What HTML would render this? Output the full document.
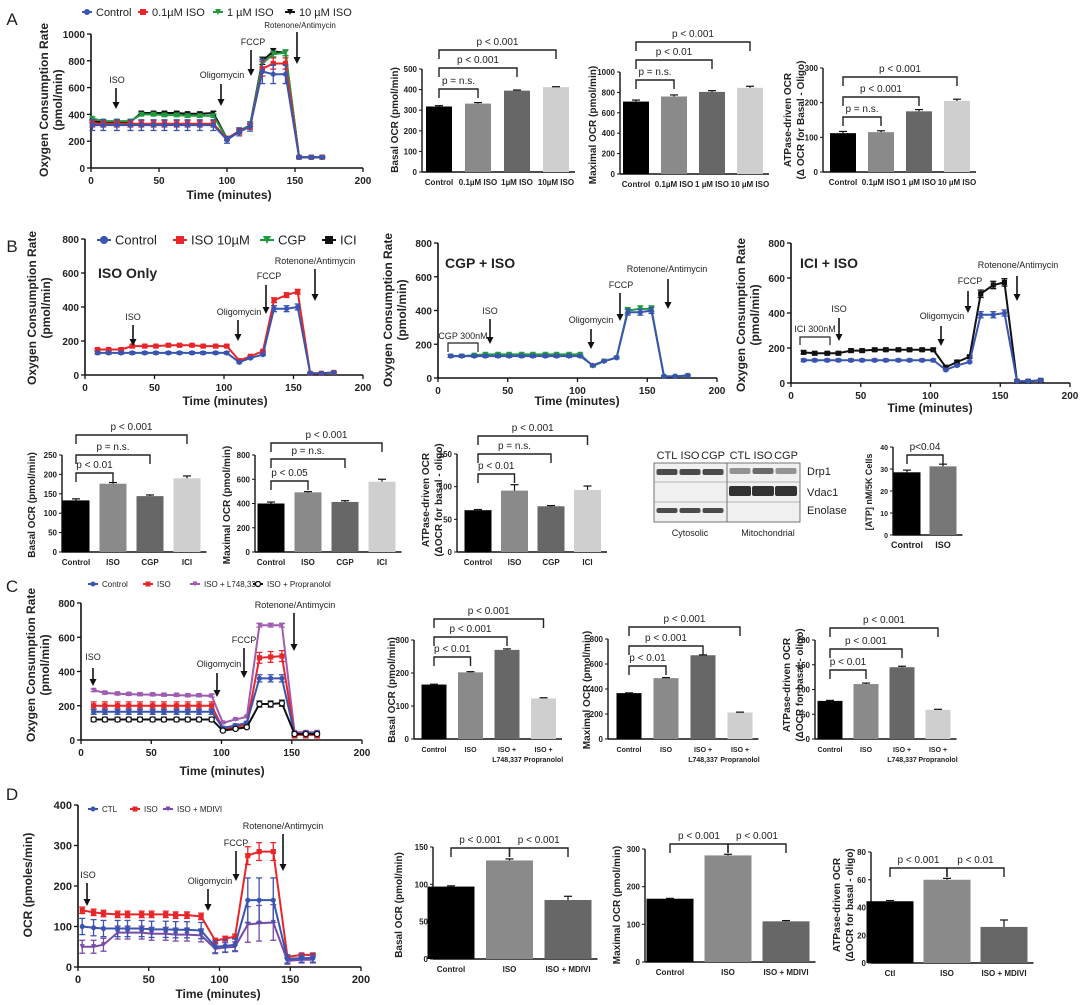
<!DOCTYPE html>
<html><head><meta charset="utf-8">
<style>
html,body{margin:0;padding:0;background:#fff;}
svg{display:block;font-family:"Liberation Sans",Arial,sans-serif;}
</style></head>
<body>
<svg id="fig" width="1080" height="1005" viewBox="0 0 1080 1005" xmlns="http://www.w3.org/2000/svg"></svg>
<script>
// ---------- DATA ----------
const aTimes=[1,9,19,29,37,46,54,63,71,80,90,100,109,117,126,134,143,153,162,170];
const aControl=[320,320,320,320,320,320,320,320,320,320,320,210,270,310,720,700,700,80,80,80];
const aIso01=[330,330,330,330,330,330,330,330,330,330,330,220,270,310,740,780,780,80,80,80];
const aIso1=[370,350,350,350,400,400,395,395,390,390,390,220,270,320,780,850,860,80,80,80];
const aIso10=[350,340,340,345,410,410,410,410,405,405,410,220,275,320,800,870,860,80,80,80];
const aErr=[40,40,40,40,40,40,40,40,40,40,40,25,30,35,90,70,70,10,10,10];

const bTimes=[9,17,26,34,43,51,60,68,77,85,94,102,111,119,128,136,145,153,162,170,179];
const bControl=[130,130,130,130,130,130,130,130,130,130,130,130,75,100,120,390,390,400,10,10,15];
const bIso=[150,150,150,170,170,170,175,175,175,170,170,170,85,110,140,440,470,490,10,10,15];
const bCgp=[130,130,135,140,140,140,140,140,140,140,140,140,70,100,120,400,410,410,10,10,15];
const bIci=[175,170,170,170,185,185,190,190,190,190,190,190,90,120,150,510,560,575,10,10,15];
const bErr=[15,15,15,15,15,15,15,15,15,15,15,15,10,10,10,35,35,35,8,8,8];

const cTimes=[9,17,26,34,42,51,59,68,76,84,93,101,110,118,127,135,143,152,160,168];
const cControl=[165,165,165,165,165,165,165,165,165,165,165,70,85,100,360,360,360,35,40,40];
const cIso=[200,200,200,200,200,200,200,200,200,200,200,65,75,90,480,485,490,30,30,30];
const cL748=[290,275,270,268,266,265,263,262,260,260,258,100,120,135,670,670,670,45,45,45];
const cProp=[120,120,120,120,120,120,120,120,120,120,120,55,65,75,210,210,215,35,35,35];
const cErr=[25,25,25,25,25,25,25,25,25,25,25,15,15,15,35,35,35,20,20,20];

const dTimes=[3,11,18,28,35,45,52,62,69,77,87,97,104,111,120,128,138,148,158,166];
const dCtl=[100,97,95,95,95,95,93,93,92,92,90,50,52,55,165,165,165,20,22,22];
const dIso=[140,135,132,130,130,130,130,130,128,128,125,65,70,75,275,285,285,25,30,30];
const dMdivi=[50,50,55,85,85,85,82,82,80,80,78,45,48,50,105,108,110,15,18,18];
const dErr=[20,20,20,20,20,20,20,20,20,20,20,15,15,15,55,55,55,10,10,10];

const aCats=["Control","0.1µM ISO","1µM ISO","10µM ISO"];
const aCats2=["Control","0.1µM ISO","1 µM ISO","10 µM ISO"];
const aBasal=[318,332,395,412], aBasalErr=[4,5,3,2];
const aMax=[710,760,805,845], aMaxErr=[15,15,12,15];
const aAtp=[112,115,175,205], aAtpErr=[5,4,5,5];
const bCats=["Control","ISO","CGP","ICI"];
const bBasal=[133,176,144,190], bBasalErr=[4,3,3,6];
const bMax=[400,492,413,580], bMaxErr=[12,6,10,20];
const bAtp=[64,94,70,95], bAtpErr=[1,9,1,6];
const atpCats=["Control","ISO"];
const atpVals=[28.5,31.2], atpErr=[1,1];
const cCats=["Control","ISO","ISO +|L748,337","ISO +|Propranolol"];
const cBasal=[165,202,270,123], cBasalErr=[1,2,3,2];
const cMax=[367,487,670,212], cMaxErr=[2,4,3,3];
const cAtp=[77,111,145,59], cAtpErr=[1,2,2,1];
const dCats=["Control","ISO","ISO + MDIVI"];
const dCats2=["Ctl","ISO","ISO + MDIVI"];
const dBasal=[97,132,79], dBasalErr=[1,2,5];
const dMax=[168,283,108], dMaxErr=[1,3,2];
const dAtp=[44.5,60,26], dAtpErr=[0.5,1,5];

// ---------- HELPERS ----------
const NS="http://www.w3.org/2000/svg";
const svg=document.getElementById('fig');
function mk(tag,attrs,parent,name){
  const el=document.createElementNS(NS,tag);
  for(const k in attrs) el.setAttribute(k,attrs[k]);
  
  
  (parent||svg).appendChild(el);
  return el;
}
function txt(x,y,s,size,opts,parent,name){
  opts=opts||{};
  const a={x:x,y:y,'font-size':size,'fill':opts.fill||'#222','text-anchor':opts.anchor||'middle'};
  if(opts.bold) a['font-weight']='bold';
  if(opts.rot) a.transform='rotate(-90 '+x+' '+y+')';
  const t=mk('text',a,parent,name);
  t.textContent=s;
  return t;
}
function line(x1,y1,x2,y2,col,w,parent,name){
  return mk('line',{x1:x1,y1:y1,x2:x2,y2:y2,stroke:col,'stroke-width':w},parent,name);
}
function arrow(x,y1,y2,parent){
  line(x,y1,x,y2-5,'#111',1.6,parent,'arrow-shaft');
  mk('polygon',{points:(x-3.5)+','+(y2-7)+' '+(x+3.5)+','+(y2-7)+' '+x+','+y2,fill:'#111'},parent,'arrow-head');
}
function marker(g,x,y,col,shape,r){
  if(shape==='sq') mk('rect',{x:x-r,y:y-r,width:2*r,height:2*r,fill:col},g,'marker');
  else if(shape==='oc') mk('circle',{cx:x,cy:y,r:r,fill:'#fff',stroke:col,'stroke-width':1.3},g,'marker');
  else if(shape==='tri') mk('polygon',{points:(x-r)+','+(y-r)+' '+(x+r)+','+(y-r)+' '+x+','+(y+r)},g,'marker').setAttribute('fill',col);
  else mk('circle',{cx:x,cy:y,r:r,fill:col},g,'marker');
}

function lineChart(c){
  const g=mk('g',{},svg,c.name);
  const sx=v=>c.x0+(v/c.xmax)*(c.x1-c.x0);
  const sy=v=>c.y0-(v/c.ymax)*(c.y0-c.y1);
  line(c.x0,c.y0,c.x0,c.y1,'#111',1.6,g,'y-axis');
  line(c.x0,c.y0,c.x1,c.y0,'#111',1.6,g,'x-axis');
  c.yticks.forEach(v=>{line(c.x0-4,sy(v),c.x0,sy(v),'#111',1.3,g,'y-tick');
    txt(c.x0-6,sy(v)+4,String(v),c.tf,{bold:true,anchor:'end'},g,'y-tick-label');});
  c.xticks.forEach(v=>{line(sx(v),c.y0,sx(v),c.y0+4,'#111',1.3,g,'x-tick');
    txt(sx(v),c.y0+16,String(v),c.tf,{bold:true},g,'x-tick-label');});
  c.series.forEach(s=>{
    const sg=mk('g',{},g,'series-'+s.key);
    const pts=s.vals.map((v,i)=>sx(c.times[i])+','+sy(v)).join(' ');
    mk('polyline',{points:pts,fill:'none',stroke:s.color,'stroke-width':2},sg,'series-line');
    s.vals.forEach((v,i)=>{
      const x=sx(c.times[i]);const e=c.err[i]*(s.ef||1);
      line(x,sy(v-e),x,sy(v+e),s.color,1.3,sg,'error-bar');
      line(x-3,sy(v+e),x+3,sy(v+e),s.color,1.3,sg,'error-cap');
      line(x-3,sy(v-e),x+3,sy(v-e),s.color,1.3,sg,'error-cap');
      marker(sg,x,sy(v),s.color,s.shape,2.6);
    });
  });
  txt(c.xtx,c.xty,'Time (minutes)',c.xtf,{bold:true},g,'x-axis-title');
  c.ytitles.forEach(t=>txt(t[0],t[1],t[2],c.ytf,{bold:true,rot:true},g,'y-axis-title'));
  (c.ann||[]).forEach(a=>{txt(a[0],a[1],a[2],a[6]||9,{},g,'annotation-label'); if(a[3]!==null) arrow(a[3],a[4],a[5],g);});
  return g;
}

function barChart(c){
  const g=mk('g',{},svg,c.name);
  const sy=v=>c.y0-(v/c.ymax)*(c.y0-c.y1);
  const cx=i=>c.first+i*c.step;
  const xEnd=cx(c.vals.length-1)+c.w/2+6;
  line(c.ax,c.y0,c.ax,c.y1,'#111',1.4,g,'y-axis');
  line(c.ax,c.y0,xEnd,c.y0,'#111',1.4,g,'x-axis');
  c.yticks.forEach(v=>{line(c.ax-3,sy(v),c.ax,sy(v),'#111',1,g,'y-tick');
    txt(c.ax-5,sy(v)+3,String(v),c.tf,{bold:true,anchor:'end'},g,'y-tick-label');});
  c.vals.forEach((v,i)=>{
    mk('rect',{x:cx(i)-c.w/2,y:sy(v),width:c.w,height:c.y0-sy(v),fill:c.colors[i]},g,'bar-'+i);
    const e=c.errs[i];
    line(cx(i),sy(v),cx(i),sy(v+e),'#111',1.2,g,'error-bar');
    line(cx(i)-4,sy(v+e),cx(i)+4,sy(v+e),'#111',1.2,g,'error-cap');
    const parts=c.cats[i].split('|');
    parts.forEach((p,k)=>txt(cx(i),c.y0+13+k*10,p,c.cf,{bold:true},g,'category-label'));
  });
  c.ytitles.forEach(t=>txt(t[0],t[1],t[2],c.ytf,{bold:true,rot:true},g,'y-axis-title'));
  (c.br||[]).forEach(b=>{
    const x1=cx(b[0]),x2=cx(b[1]),y=b[2];
    mk('polyline',{points:x1+','+(y+9)+' '+x1+','+y+' '+x2+','+y+' '+x2+','+(y+9),fill:'none',stroke:'#222','stroke-width':1.4},g,'significance-bracket');
    txt((x1+x2)/2,y-5,b[3],c.pf||10,{},g,'p-value-label');
  });
  return g;
}
function legend(items,y,fs,name){
  const g=mk('g',{},svg,name);
  items.forEach(it=>{
    const lg=mk('g',{},g,'legend-entry');
    line(it[0],y,it[0]+it[1],y,it[2],2,lg,'legend-line');
    marker(lg,it[0]+it[1]/2,y,it[2],it[3],it[5]||3);
    txt(it[0]+it[1]+4,y+fs*0.36,it[4],fs,{anchor:'start'},lg,'legend-label');
  });
}
const BL='#3a55b0',RD='#e8262a',GR='#1f9a3e',BK='#111',PU='#a05cb0',PU2='#7a4aa8';
const grays4=['#000','#8a8a8a','#676767','#cfcfcf'];

// panel letters
txt(12,25,'A',17,{},null,'panel-label-a');
txt(12,252,'B',17,{},null,'panel-label-b');
txt(12,592,'C',17,{},null,'panel-label-c');
txt(12,800,'D',17,{},null,'panel-label-d');

// ---------- A ----------
legend([[82,10,BL,'c','Control'],[138,10,RD,'sq','0.1µM ISO'],[213,10,GR,'tri','1 µM ISO'],[285,10,BK,'tri','10 µM ISO']],12,11,'legend-a');
lineChart({name:'chart-a-ocr',x0:91,x1:363,y0:168,y1:34,xmax:200,ymax:1000,yticks:[0,200,400,600,800,1000],xticks:[0,50,100,150,200],tf:10,
 times:aTimes,err:aErr,series:[{key:'10uM',vals:aIso10,color:BK,shape:'tri',ef:0.3},{key:'1uM',vals:aIso1,color:GR,shape:'tri',ef:0.3},{key:'0.1uM',vals:aIso01,color:RD,shape:'sq',ef:0.6},{key:'control',vals:aControl,color:BL,shape:'c'}],
 xtx:229,xty:199,xtf:12,ytf:12,ytitles:[[48,100,'Oxygen Consumption Rate'],[62,100,'(pmol/min)']],
 ann:[[117,83,'ISO',116,88,109],[222,78,'Oligomycin',221,84,106],[253,45,'FCCP',251,50,76],[300,28,'Rotenone/Antimycin',297,32,64,8]]});
barChart({name:'chart-a-basal',ax:422,y0:172,y1:69,ymax:500,yticks:[0,100,200,300,400,500],first:439,step:39,w:26,vals:aBasal,errs:aBasalErr,colors:grays4,cats:aCats,tf:8,cf:8,ytf:10,
 ytitles:[[398,120,'Basal OCR (pmol/min)']],br:[[0,1,89,'p = n.s.'],[0,2,68,'p < 0.001'],[0,3,50,'p < 0.001']]});
barChart({name:'chart-a-maximal',ax:620,y0:174,y1:72,ymax:1000,yticks:[0,200,400,600,800,1000],first:636,step:38,w:26,vals:aMax,errs:aMaxErr,colors:grays4,cats:aCats2,tf:8,cf:8,ytf:10,
 ytitles:[[596,125,'Maximal OCR (pmol/min)']],br:[[0,1,80,'p = n.s.'],[0,2,60,'p < 0.01'],[0,3,42,'p < 0.001']]});
barChart({name:'chart-a-atp',ax:823,y0:172,y1:68,ymax:300,yticks:[0,100,200,300],first:843,step:38,w:26,vals:aAtp,errs:aAtpErr,colors:grays4,cats:aCats2,tf:8,cf:8,ytf:10,
 ytitles:[[791,120,'ATPase-driven OCR'],[804,120,'(Δ OCR for Basal - Oligo)']],br:[[0,1,117,'p = n.s.'],[0,2,97,'p < 0.001'],[0,3,77,'p < 0.001']]});

// ---------- B ----------
legend([[97,14,BL,'c','Control',4],[173,14,RD,'sq','ISO 10µM',4],[260,14,GR,'tri','CGP',4],[322,14,BK,'sq','ICI',4]],240,13,'legend-b');
lineChart({name:'chart-b-iso-only',x0:85,x1:363,y0:375,y1:239,xmax:200,ymax:800,yticks:[0,200,400,600,800],xticks:[0,50,100,150,200],tf:10,
 times:bTimes,err:bErr,series:[{key:'iso',vals:bIso,color:RD,shape:'sq',ef:0.4},{key:'control',vals:bControl,color:BL,shape:'c',ef:0.5}],
 xtx:225,xty:405,xtf:12,ytf:12,ytitles:[[36,308,'Oxygen Consumption Rate'],[50,308,'(pmol/min)']],
 ann:[[133,320,'ISO',133,325,346],[239,315,'Oligomycin',238,320,341],[269,279,'FCCP',266,285,314],[315,264,'Rotenone/Antimycin',315,269,301]]});
txt(98,278,'ISO Only',14,{bold:true,anchor:'start'},null,'chart-title-iso-only');
lineChart({name:'chart-b-cgp-iso',x0:438,x1:717,y0:378,y1:243,xmax:200,ymax:800,yticks:[0,200,400,600,800],xticks:[0,50,100,150,200],tf:10,
 times:bTimes,err:bErr,series:[{key:'cgp',vals:bCgp,color:GR,shape:'tri',ef:0.5},{key:'control',vals:bControl,color:BL,shape:'c',ef:0.5}],
 xtx:577,xty:405,xtf:12,ytf:12,ytitles:[[392,310,'Oxygen Consumption Rate'],[406,310,'(pmol/min)']],
 ann:[[463,339,'CGP 300nM',null],[490,314,'ISO',490,319,344],[591,323,'Oligomycin',591,329,349],[621,288,'FCCP',620,293,321],[667,272,'Rotenone/Antimycin',668,279,309]]});
mk('polyline',{points:'448,352 448,343 478,343 478,352',fill:'none',stroke:'#222','stroke-width':1.2},null,'cgp-bracket');
txt(445,268,'CGP + ISO',14,{bold:true,anchor:'start'},null,'chart-title-cgp-iso');
lineChart({name:'chart-b-ici-iso',x0:791,x1:1070,y0:383,y1:243,xmax:200,ymax:800,yticks:[0,200,400,600,800],xticks:[0,50,100,150,200],tf:10,
 times:bTimes,err:bErr,series:[{key:'ici',vals:bIci,color:BK,shape:'sq',ef:0.6},{key:'control',vals:bControl,color:BL,shape:'c',ef:0.5}],
 xtx:930,xty:412,xtf:12,ytf:12,ytitles:[[745,315,'Oxygen Consumption Rate'],[759,315,'(pmol/min)']],
 ann:[[815,332,'ICI 300nM',null],[839,312,'ISO',839,318,341],[942,319,'Oligomycin',941,326,346],[970,284,'FCCP',968,291,313],[1018,268,'Rotenone/Antimycin',1017,276,301]]});
mk('polyline',{points:'800,345 800,337 830,337 830,345',fill:'none',stroke:'#222','stroke-width':1.2},null,'ici-bracket');
txt(800,268,'ICI + ISO',14,{bold:true,anchor:'start'},null,'chart-title-ici-iso');

barChart({name:'chart-b-basal',ax:62,y0:552,y1:455,ymax:250,yticks:[0,50,100,150,200,250],first:76,step:37,w:27,vals:bBasal,errs:bBasalErr,colors:grays4,cats:bCats,tf:8,cf:8,ytf:10,
 ytitles:[[35,505,'Basal OCR (pmol/min)']],br:[[0,1,473,'p < 0.01'],[0,2,455,'p = n.s.'],[0,3,435,'p < 0.001']]});
barChart({name:'chart-b-maximal',ax:255,y0:552,y1:455,ymax:800,yticks:[0,200,400,600,800],first:271,step:37,w:27,vals:bMax,errs:bMaxErr,colors:grays4,cats:bCats,tf:8,cf:8,ytf:10,
 ytitles:[[230,505,'Maximal OCR (pmol/min)']],br:[[0,1,481,'p < 0.05'],[0,2,459,'p = n.s.'],[0,3,443,'p < 0.001']]});
barChart({name:'chart-b-atp',ax:457,y0:552,y1:454,ymax:150,yticks:[0,50,100,150],first:478,step:36.5,w:27,vals:bAtp,errs:bAtpErr,colors:grays4,cats:bCats,tf:8,cf:8,ytf:10,
 ytitles:[[429,500,'ATPase-driven OCR'],[442,500,'(ΔOCR for basal - oligo)']],br:[[0,1,474,'p < 0.01'],[0,2,454,'p = n.s.'],[0,3,436,'p < 0.001']]});
barChart({name:'chart-b-atp-content',ax:893,y0:535,y1:447,ymax:40,yticks:[0,10,20,30,40],first:907,step:36,w:27,vals:atpVals,errs:atpErr,colors:['#000','#777'],cats:atpCats,tf:7,cf:9,ytf:9,
 ytitles:[[872,492,'[ATP] nM/5K Cells']],br:[[0,1,455,'p<0.04']]});

// western blot
(function(){
  const g=mk('g',{},svg,'western-blot');
  const lanes=['CTL','ISO','CGP','CTL','ISO','CGP'];
  const lx=[667,690,713,740,763,786];
  lanes.forEach((l,i)=>txt(lx[i],459,l,11,{},g,'lane-label'));
  mk('rect',{x:654,y:463,width:146,height:59,fill:'#f0f0f0',stroke:'#555','stroke-width':0.8},g,'blot-frame');
  line(727,463,727,522,'#555',0.8,g,'blot-divider');
  line(654,482,800,482,'#777',0.6,g,'blot-row-divider');
  line(654,502,800,502,'#777',0.6,g,'blot-row-divider');
  const band=(x,y,w,h,o,n)=>mk('rect',{x:x-w/2,y:y,width:w,height:h,rx:2,fill:'#222','fill-opacity':o},g,n);
  [0,1,2].forEach(i=>band(lx[i],469,21,6,0.8,'drp1-band'));
  [3,4,5].forEach(i=>band(lx[i],468,21,6,0.45+0.2*(i===4),'drp1-band'));
  [3,4,5].forEach(i=>band(lx[i],486,22,10,0.92,'vdac1-band'));
  [0,1,2].forEach(i=>band(lx[i],508,21,5,0.8,'enolase-band'));
  txt(807,475,'Drp1',11,{anchor:'start'},g,'blot-label');
  txt(807,496,'Vdac1',11,{anchor:'start'},g,'blot-label');
  txt(807,514,'Enolase',11,{anchor:'start'},g,'blot-label');
  txt(690,536,'Cytosolic',9,{},g,'fraction-label');
  txt(768,536,'Mitochondrial',9,{},g,'fraction-label');
})();

// ---------- C ----------
legend([[88,10,BL,'c','Control',2.5],[143,10,RD,'sq','ISO',2.5],[190,10,PU,'tri','ISO + L748,337',2.5],[253,10,BK,'oc','ISO + Propranolol',2.5]],584,8,'legend-c');
lineChart({name:'chart-c-ocr',x0:81,x1:362,y0:740,y1:603,xmax:200,ymax:800,yticks:[0,200,400,600,800],xticks:[0,50,100,150,200],tf:10,
 times:cTimes,err:cErr,series:[{key:'l748',vals:cL748,color:PU,shape:'tri',ef:0.3},{key:'iso',vals:cIso,color:RD,shape:'sq',ef:0.9},{key:'control',vals:cControl,color:BL,shape:'c',ef:0.6},{key:'propranolol',vals:cProp,color:BK,shape:'oc',ef:0.5}],
 xtx:222,xty:775,xtf:12,ytf:12,ytitles:[[35,665,'Oxygen Consumption Rate'],[49,665,'(pmol/min)']],
 ann:[[93,660,'ISO',93,668,686],[219,667,'Oligomycin',217,673,697],[244,643,'FCCP',244,648,678],[295,608,'Rotenone/Antimycin',294,613,651]]});
barChart({name:'chart-c-basal',ax:414,y0:739,y1:640,ymax:300,yticks:[0,100,200,300],first:434,step:36.5,w:25,vals:cBasal,errs:cBasalErr,colors:grays4,cats:cCats,tf:8,cf:7,ytf:10,
 ytitles:[[395,690,'Basal OCR (pmol/min)']],br:[[0,1,657,'p < 0.01'],[0,2,637,'p < 0.001'],[0,3,619,'p < 0.001']]});
barChart({name:'chart-c-maximal',ax:608,y0:739,y1:639,ymax:800,yticks:[0,200,400,600,800],first:629,step:37,w:25,vals:cMax,errs:cMaxErr,colors:grays4,cats:cCats,tf:8,cf:7,ytf:10,
 ytitles:[[590,690,'Maximal OCR (pmol/min)']],br:[[0,1,666,'p < 0.01'],[0,2,646,'p < 0.001'],[0,3,627,'p < 0.001']]});
barChart({name:'chart-c-atp',ax:815,y0:739,y1:640,ymax:200,yticks:[0,50,100,150,200],first:830,step:36,w:25,vals:cAtp,errs:cAtpErr,colors:grays4,cats:cCats,tf:8,cf:7,ytf:10,
 ytitles:[[790,685,'ATPase-driven OCR'],[803,685,'(ΔOCR for basal - oligo)']],br:[[0,1,670,'p < 0.01'],[0,2,649,'p < 0.001'],[0,3,628,'p < 0.001']]});

// ---------- D ----------
legend([[88,10,BL,'c','CTL',2.5],[130,10,RD,'sq','ISO',2.5],[163,10,PU2,'tri','ISO + MDIVI',2.5]],809,8,'legend-d');
lineChart({name:'chart-d-ocr',x0:78,x1:361,y0:967,y1:805,xmax:200,ymax:400,yticks:[0,100,200,300,400],xticks:[0,50,100,150,200],tf:11,
 times:dTimes,err:dErr,series:[{key:'iso',vals:dIso,color:RD,shape:'sq',ef:0.4},{key:'mdivi',vals:dMdivi,color:PU2,shape:'tri',ef:0.8},{key:'ctl',vals:dCtl,color:BL,shape:'c'}],
 xtx:218,xty:998,xtf:12,ytf:12,ytitles:[[32,885,'OCR (pmoles/min)']],
 ann:[[88,878,'ISO',87,883,906],[210,884,'Oligomycin',208,889,911],[236,846,'FCCP',236,851,881],[283,829,'Rotenone/Antimycin',283,834,871]]});
barChart({name:'chart-d-basal',ax:433,y0:959,y1:847,ymax:150,yticks:[0,50,100,150],first:451,step:58.5,w:47,vals:dBasal,errs:dBasalErr,colors:['#000','#8a8a8a','#676767'],cats:dCats,tf:8,cf:8,ytf:10,
 ytitles:[[402,905,'Basal OCR (pmol/min)']],br:[[0,1,848,'p < 0.001'],[1,2,848,'p < 0.001']]});
barChart({name:'chart-d-maximal',ax:645,y0:962,y1:849,ymax:300,yticks:[0,100,200,300],first:670,step:58,w:47,vals:dMax,errs:dMaxErr,colors:['#000','#8a8a8a','#676767'],cats:dCats,tf:8,cf:8,ytf:10,
 ytitles:[[620,905,'Maximal OCR (pmol/min)']],br:[[0,1,844,'p < 0.001'],[1,2,844,'p < 0.001']]});
barChart({name:'chart-d-atp',ax:871,y0:963,y1:852,ymax:80,yticks:[0,20,40,60,80],first:890,step:57,w:47,vals:dAtp,errs:dAtpErr,colors:['#000','#8a8a8a','#676767'],cats:dCats2,tf:8,cf:8,ytf:10,
 ytitles:[[840,905,'ATPase-driven OCR'],[853,905,'(ΔOCR for basal - oligo)']],br:[[0,1,868,'p < 0.001'],[1,2,868,'p < 0.01']]});
</script>
</body></html>
